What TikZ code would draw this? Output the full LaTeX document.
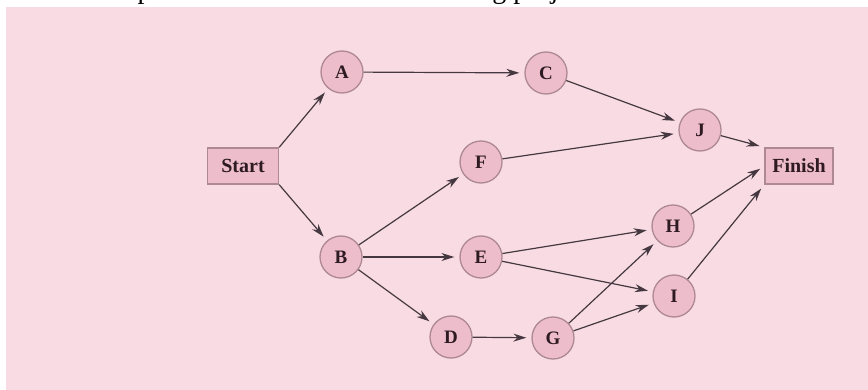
\documentclass[tikz,border=0pt]{standalone}
\usepackage{fontspec}
\setmainfont{Liberation Serif}
\usetikzlibrary{arrows.meta}

\definecolor{panel}{HTML}{F9DCE3}
\definecolor{eventfill}{HTML}{EDBDCB}
\definecolor{eventline}{HTML}{AE8893}
\definecolor{linkgray}{HTML}{453840}
\definecolor{labelink}{HTML}{2E1A22}

\tikzset{
    event/.style={circle, draw=eventline, fill=eventfill, line width=1.3pt,
        minimum size=42pt, inner sep=0pt, text=labelink,
        font=\fontsize{19}{21}\selectfont\bfseries},
    terminal/.style={rectangle, draw=eventline, fill=eventfill, line width=1.3pt,
        minimum height=36pt, inner xsep=5pt, text=labelink,
        font=\fontsize{20}{22}\selectfont\bfseries},
    link/.style={-{Stealth[length=13pt,width=8pt]}, draw=linkgray,
        line width=1.2pt, shorten >=5pt}
}

\begin{document}
\begin{tikzpicture}[x=1pt,y=-1pt]
        \useasboundingbox (0,0) rectangle (868,390);
        \fill[white] (0,0) rectangle (868,390);

        % last line of the text above, cut by the page edge
        \begin{scope}
            \clip (0,0) rectangle (868,390);
            \node[anchor=base east, inner sep=0pt, font=\fontsize{28}{30}\selectfont]
                (caption) at (697,-1.5) {Consider the operations shown in the following project network.};
        \end{scope}

        \fill[panel] (6,7) rectangle (868,390);

        \node[terminal, minimum width=71pt] (start) at (243,166) {Start};
        \node[terminal, minimum width=68pt] (finish) at (799,166) {Finish};

        \node[event] (A) at (342,72) {A};
        \node[event] (C) at (546,73) {C};
        \node[event] (J) at (700,130) {J};
        \node[event] (F) at (481,162) {F};
        \node[event] (B) at (341,257) {B};
        \node[event] (E) at (481,257) {E};
        \node[event] (H) at (673,226) {H};
        \node[event] (I) at (674,296) {I};
        \node[event] (D) at (451,337) {D};
        \node[event] (G) at (553,338) {G};

        \draw[link] (start.north east) -- (A);
        \draw[link] (start.south east) -- (B);

        \foreach \a/\b in {A/C, C/J, B/F, B/E, B/D, F/J, E/H, E/I, D/G, G/H, G/I}
            \draw[link] (\a) -- (\b);

        \draw[link] (J) -- (finish.north west);
        \draw[link] (H) -- (finish.west);
        \draw[link] (I) -- (finish.south west);

    \end{tikzpicture}
\end{document}
